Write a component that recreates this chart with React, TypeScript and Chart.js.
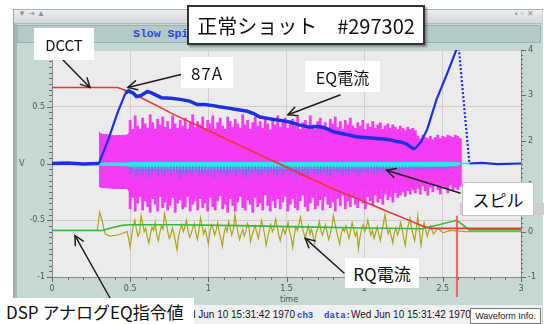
import React, { useEffect, useRef } from 'react';
import { Chart, registerables } from 'chart.js';

Chart.register(...registerables);

// ---- EQ current (blue) ----
const eqTime = [0, 0.10, 0.20, 0.30, 0.36, 0.42, 0.47, 0.49, 0.52, 0.54, 0.57, 0.61, 0.64, 0.70, 0.76, 0.82, 0.88, 0.93, 0.98, 1.03, 1.07, 1.12, 1.16, 1.21, 1.25, 1.29, 1.33, 1.37, 1.41, 1.46, 1.52, 1.58, 1.65, 1.69, 1.73, 1.77, 1.80, 1.85, 1.90, 1.95, 2.00, 2.04, 2.08, 2.12, 2.16, 2.20, 2.23, 2.27, 2.30, 2.32, 2.36, 2.40, 2.46, 2.53, 2.60, 2.67, 2.75, 2.85, 3.0];
const eqValue = [0, 0.005, -0.005, 0, 0.21, 0.45, 0.62, 0.64, 0.62, 0.59, 0.60, 0.635, 0.62, 0.58, 0.575, 0.565, 0.55, 0.52, 0.52, 0.51, 0.50, 0.49, 0.48, 0.47, 0.46, 0.44, 0.41, 0.40, 0.39, 0.38, 0.365, 0.34, 0.32, 0.325, 0.32, 0.30, 0.28, 0.265, 0.25, 0.235, 0.23, 0.225, 0.22, 0.215, 0.21, 0.195, 0.19, 0.17, 0.14, 0.125, 0.19, 0.30, 0.565, 0.80, 1.05, 0, 0.005, -0.005, 0];

// ---- DCCT (red) ----
const dcctTime = [0, 0.42, 0.49, 0.60, 0.775, 0.90, 1.07, 1.25, 1.45, 1.65, 1.80, 1.97, 2.15, 2.30, 2.37, 2.42, 3.0];
const dcctValue = [0.67, 0.67, 0.635, 0.56, 0.435, 0.355, 0.245, 0.128, 0.0, -0.13, -0.225, -0.32, -0.425, -0.51, -0.55, -0.572, -0.572];

// ---- DSP analog EQ command (green) ----
const dspTime = [0, 0.32, 0.36, 0.40, 0.45, 0.50, 0.80, 1.20, 1.60, 2.00, 2.37, 2.59, 2.67, 3.0];
const dspValue = [-0.59, -0.59, -0.575, -0.56, -0.545, -0.54, -0.54, -0.547, -0.558, -0.568, -0.575, -0.50, -0.585, -0.585];

// ---- RQ current (olive) ----
const rqLeadTime = [0, 0.29, 0.305, 0.32, 0.34, 0.37, 0.42, 0.46];
const rqLeadValue = [-0.59, -0.59, -0.43, -0.50, -0.62, -0.64, -0.63, -0.61];
const rqNoiseStart = 0.48;
const rqNoiseStep = 0.01;
const rqNoiseValue = [
  -0.60, -0.66, -0.74, -0.63, -0.55, -0.50, -0.58, -0.64, -0.61, -0.46, -0.53, -0.60, -0.57, -0.65, -0.70, -0.62, -0.56, -0.59, -0.52, -0.63,
  -0.68, -0.61, -0.55, -0.58, -0.44, -0.51, -0.60, -0.66, -0.63, -0.57, -0.62, -0.69, -0.76, -0.64, -0.58, -0.54, -0.60, -0.56, -0.50, -0.59,
  -0.65, -0.62, -0.57, -0.53, -0.61, -0.67, -0.59, -0.48, -0.55, -0.62, -0.58, -0.64, -0.71, -0.60, -0.54, -0.57, -0.63, -0.59, -0.52, -0.61,
  -0.66, -0.73, -0.62, -0.56, -0.60, -0.51, -0.57, -0.63, -0.58, -0.45, -0.54, -0.61, -0.67, -0.62, -0.58, -0.64, -0.60, -0.53, -0.57, -0.69,
  -0.63, -0.59, -0.55, -0.61, -0.66, -0.58, -0.50, -0.56, -0.62, -0.72, -0.65, -0.59, -0.54, -0.60, -0.57, -0.49, -0.55, -0.63, -0.68, -0.61,
  -0.57, -0.62, -0.58, -0.52, -0.60, -0.65, -0.74, -0.63, -0.56, -0.59, -0.53, -0.47, -0.56, -0.61, -0.66, -0.60, -0.55, -0.62, -0.58, -0.64,
  -0.70, -0.61, -0.57, -0.51, -0.59, -0.63, -0.58, -0.54, -0.61, -0.67, -0.62, -0.56, -0.46, -0.53, -0.60, -0.65, -0.71, -0.62, -0.57, -0.60,
  -0.55, -0.61, -0.66, -0.59, -0.52, -0.58, -0.64, -0.60, -0.75, -0.65, -0.58, -0.54, -0.60, -0.56, -0.50, -0.57, -0.63, -0.59, -0.66, -0.61,
  -0.56, -0.62, -0.68, -0.60, -0.53, -0.45, -0.55, -0.62, -0.58, -0.64, -0.70, -0.61, -0.57, -0.63, -0.59, -0.52, -0.58, -0.66, -0.72, -0.60,
  -0.54, -0.48, -0.57, -0.63, -0.68, -0.58, -0.46,
];
const rqTailTime = [2.36, 2.38, 2.40, 2.42, 2.44, 2.47, 2.50, 2.55, 2.65, 3.0];
const rqTailValue = [-0.72, -0.52, -0.64, -0.55, -0.62, -0.57, -0.61, -0.59, -0.60, -0.60];

// ---- Spill (magenta): dense core band plus spike extremes ----
const spillCoreTime = [0.30, 0.31, 0.40, 0.48, 0.52, 0.80, 1.20, 1.60, 2.00, 2.30, 2.34, 2.52, 2.61];
const spillCoreHigh = [0.28, 0.26, 0.245, 0.25, 0.30, 0.30, 0.30, 0.29, 0.29, 0.27, 0.21, 0.20, 0.22];
const spillCoreLow = [-0.20, -0.21, -0.22, -0.22, -0.29, -0.29, -0.28, -0.26, -0.23, -0.20, -0.17, -0.15, -0.15];
const spikeStart = 0.50;
const spikeStep = 0.016;
const spikeHigh = [
  0.38, 0.30, 0.42, 0.33, 0.29, 0.40, 0.35, 0.31, 0.43, 0.36, 0.30, 0.39, 0.34, 0.41, 0.32, 0.37, 0.29, 0.42, 0.35, 0.31, 0.38, 0.33, 0.40, 0.30, 0.36, 0.43, 0.32, 0.37, 0.34, 0.41,
  0.31, 0.38, 0.35, 0.42, 0.30, 0.36, 0.40, 0.33, 0.29, 0.41, 0.37, 0.32, 0.39, 0.35, 0.31, 0.43, 0.34, 0.38, 0.30, 0.36, 0.41, 0.33, 0.37, 0.31, 0.40, 0.35, 0.29, 0.38, 0.34, 0.42,
  0.32, 0.37, 0.40, 0.31, 0.35, 0.39, 0.33, 0.41, 0.30, 0.36, 0.38, 0.32, 0.42, 0.34, 0.30, 0.37, 0.40, 0.33, 0.36, 0.31, 0.39, 0.35, 0.41, 0.32, 0.37, 0.30, 0.38, 0.34, 0.40, 0.33,
  0.31, 0.36, 0.33, 0.38, 0.30, 0.35, 0.32, 0.37, 0.31, 0.34, 0.36, 0.30, 0.33, 0.35, 0.31, 0.34, 0.32, 0.30, 0.33, 0.31, 0.29, 0.32, 0.30, 0.31, 0.29,
  0.24, 0.22, 0.25, 0.23, 0.22, 0.24, 0.21, 0.23, 0.25, 0.22, 0.24, 0.23, 0.25, 0.24, 0.23, 0.25, 0.24, 0.22,
];
const spikeLow = [
  -0.40, -0.30, -0.42, -0.35, -0.28, -0.41, -0.33, -0.38, -0.43, -0.31, -0.36, -0.42, -0.29, -0.39, -0.34, -0.41, -0.37, -0.30, -0.43, -0.35, -0.32, -0.40, -0.38, -0.29, -0.42, -0.36, -0.33, -0.41, -0.31, -0.39,
  -0.35, -0.42, -0.30, -0.38, -0.41, -0.33, -0.28, -0.40, -0.36, -0.43, -0.31, -0.37, -0.42, -0.34, -0.29, -0.39, -0.41, -0.32, -0.36, -0.43, -0.30, -0.38, -0.35, -0.41, -0.28, -0.37, -0.42, -0.33, -0.39, -0.31,
  -0.40, -0.34, -0.29, -0.42, -0.36, -0.31, -0.39, -0.41, -0.33, -0.28, -0.38, -0.42, -0.35, -0.30, -0.40, -0.37, -0.32, -0.41, -0.29, -0.36, -0.39, -0.34, -0.42, -0.31, -0.37, -0.28, -0.40, -0.33, -0.38, -0.30,
  -0.36, -0.39, -0.31, -0.35, -0.40, -0.29, -0.33, -0.37, -0.28, -0.34, -0.31, -0.36, -0.27, -0.32, -0.29, -0.34, -0.26, -0.30, -0.28, -0.25, -0.29, -0.24, -0.27, -0.23, -0.26,
  -0.22, -0.27, -0.20, -0.24, -0.28, -0.21, -0.25, -0.19, -0.23, -0.27, -0.20, -0.22, -0.26, -0.19, -0.24, -0.21, -0.23, -0.20,
];

// ---- Spill monitor baseline (cyan) with violet dips ----
const cyanTime = [0.30, 0.48, 0.52, 1.0, 1.5, 2.0, 2.4, 2.60, 2.61];
const cyanHigh = [0.005, 0.005, 0.01, 0.01, 0.01, 0.01, 0.01, 0.01, 0.005];
const cyanLow = [-0.015, -0.02, -0.045, -0.05, -0.045, -0.04, -0.03, -0.02, -0.005];
const cyanTailTime = [2.60, 2.67];
const cyanTailValue = [0.0, 0.0];
const dipStart = 0.50;
const dipStep = 0.02;
const dipLow = [
  -0.09, -0.06, -0.12, -0.08, -0.10, -0.07, -0.13, -0.09, -0.06, -0.11,
  -0.08, -0.12, -0.07, -0.10, -0.06, -0.09, -0.13, -0.08, -0.11, -0.07,
  -0.10, -0.06, -0.12, -0.09, -0.08, -0.11, -0.07, -0.13, -0.06, -0.10,
  -0.09, -0.12, -0.07, -0.08, -0.11, -0.06, -0.10, -0.13, -0.08, -0.09,
  -0.07, -0.12, -0.10, -0.06, -0.11, -0.08, -0.09, -0.12, -0.07, -0.10,
  -0.06, -0.11, -0.08, -0.13, -0.09, -0.07, -0.10, -0.12, -0.06, -0.09,
  -0.11, -0.08, -0.07, -0.10, -0.12, -0.06, -0.09, -0.08, -0.11, -0.07,
  -0.10, -0.06, -0.09, -0.12, -0.08, -0.07, -0.10, -0.06, -0.09, -0.08,
  -0.07, -0.10, -0.06, -0.08, -0.09, -0.06, -0.07, -0.08, -0.06, -0.07,
  -0.05, -0.07, -0.06, -0.05, -0.06, -0.04, -0.05, -0.06, -0.04, -0.05,
  -0.04, -0.05, -0.04, -0.03, -0.04,
];

// ---- Axes ----
const timeMin = 0;
const timeMax = 3;
const leftMin = -1;
const leftMax = 1;
const rightMin = -1;
const rightMax = 4;
const cursorTime = 2.59;

// Callout arrows: tip sits on the data (time, value), tail on the label box (px)
const callouts = [
  { tip: [0.243, 0.67], tail: [63, 60] },
  { tip: [0.486, 0.67], tail: [183, 74] },
  { tip: [1.51, 0.43], tail: [340, 95] },
  { tip: [2.14, -0.06], tail: [460, 193] },
  { tip: [1.62, -0.66], tail: [344, 273] },
  { tip: [0.147, -0.635], tail: [110, 298] },
];

const pts = (xs: number[], ys: number[]) => xs.map((x, i) => ({ x, y: ys[i] }));
const stepPts = (start: number, step: number, ys: number[]) =>
  ys.map((y, i) => ({ x: +(start + step * i).toFixed(4), y }));

const GRID = '#d6cad3';
const AXIS = '#8c8c8c';
const TICK_FONT = { size: 8, family: '"DejaVu Sans", sans-serif' };
const tickText = (v: any) => {
  const n = Number(v);
  return Number.isInteger(n) ? String(n) : n.toFixed(1);
};

const plotBackground = {
  id: 'plotBackground',
  beforeDraw(chart: any) {
    const { ctx, chartArea: a } = chart;
    ctx.save();
    ctx.fillStyle = '#ebebeb';
    ctx.fillRect(a.left, a.top, a.right - a.left, a.bottom - a.top);
    ctx.restore();
  },
};

function arrow(ctx: CanvasRenderingContext2D, x0: number, y0: number, x1: number, y1: number) {
  ctx.beginPath();
  ctx.moveTo(x0, y0);
  ctx.lineTo(x1, y1);
  ctx.stroke();
  const ang = Math.atan2(y1 - y0, x1 - x0);
  const len = 10;
  const spread = 0.48;
  ctx.beginPath();
  ctx.moveTo(x1 - len * Math.cos(ang - spread), y1 - len * Math.sin(ang - spread));
  ctx.lineTo(x1, y1);
  ctx.lineTo(x1 - len * Math.cos(ang + spread), y1 - len * Math.sin(ang + spread));
  ctx.stroke();
}

const overlay = {
  id: 'overlay',
  afterDraw(chart: any) {
    const { ctx, chartArea: a, scales } = chart;
    const xs = scales.x;
    const ys = scales.y;
    const yr = scales.y1;
    ctx.save();
    // minor / major tick marks
    ctx.strokeStyle = '#6a6a6a';
    ctx.lineWidth = 1;
    ctx.beginPath();
    for (let i = 0; i <= 40; i++) {
      const p = Math.round(ys.getPixelForValue(leftMin + i * 0.05)) + 0.5;
      ctx.moveTo(a.left - (i % 10 === 0 ? 5 : 3), p);
      ctx.lineTo(a.left, p);
    }
    for (let i = 0; i <= 30; i++) {
      const p = Math.round(xs.getPixelForValue(timeMin + i * 0.1)) + 0.5;
      ctx.moveTo(p, a.bottom);
      ctx.lineTo(p, a.bottom + (i % 5 === 0 ? 5 : 3));
    }
    for (let i = 0; i <= 50; i++) {
      const p = Math.round(yr.getPixelForValue(rightMin + i * 0.1)) + 0.5;
      ctx.moveTo(a.right, p);
      ctx.lineTo(a.right + (i % 10 === 0 ? 5 : 2), p);
    }
    ctx.stroke();

    // cursor marker
    const cx = xs.getPixelForValue(cursorTime);
    ctx.strokeStyle = 'rgba(240, 85, 85, 0.9)';
    ctx.lineWidth = 2;
    ctx.beginPath();
    ctx.moveTo(cx, ys.getPixelForValue(-0.46));
    ctx.lineTo(cx, a.bottom + 20);
    ctx.stroke();

    // callout arrows
    ctx.strokeStyle = '#1e1e1e';
    ctx.lineWidth = 1.5;
    ctx.lineCap = 'round';
    for (const c of callouts) {
      arrow(ctx, c.tail[0], c.tail[1], xs.getPixelForValue(c.tip[0]), ys.getPixelForValue(c.tip[1]));
    }
    ctx.restore();
  },
};

const boxBase: React.CSSProperties = {
  position: 'absolute',
  background: '#ffffff',
  display: 'flex',
  alignItems: 'center',
  justifyContent: 'center',
  color: '#111',
  fontFamily: '"Noto Sans CJK JP", "Noto Sans", sans-serif',
  whiteSpace: 'pre',
  zIndex: 3,
};

export default function App() {
  const ref = useRef<HTMLCanvasElement>(null);

  useEffect(() => {
    document.body.style.margin = '0';
    const canvas = ref.current!;
    const rqData = [
      ...pts(rqLeadTime, rqLeadValue),
      ...stepPts(rqNoiseStart, rqNoiseStep, rqNoiseValue),
      ...pts(rqTailTime, rqTailValue),
    ];
    const spikeData = spikeHigh.map((h, i) => ({ x: +(spikeStart + spikeStep * i).toFixed(4), y: [spikeLow[i], h] }));
    const dipData = dipLow.map((l, i) => ({ x: +(dipStart + dipStep * i).toFixed(4), y: [l, -0.03] }));

    const chart = new Chart(canvas, {
      type: 'line',
      data: {
        datasets: [
          {
            label: 'EQ電流',
            data: pts(eqTime, eqValue),
            borderColor: '#1b30e2',
            borderWidth: 3.5,
            order: 0,
            segment: {
              borderWidth: (c: any) => {
                const t = c.p0.parsed.x;
                return (t >= 0.29 && t < 0.46) || t >= 2.32 ? 2.2 : undefined;
              },
              borderDash: (c: any) => (c.p0.parsed.x >= 2.59 && c.p0.parsed.x < 2.66 ? [2, 2] : undefined),
            },
          } as any,
          { label: 'DCCT', data: pts(dcctTime, dcctValue), borderColor: '#ee3434', borderWidth: 1.6, order: 1 },
          { label: 'DSP', data: pts(dspTime, dspValue), borderColor: '#36b936', borderWidth: 1.6, order: 2 },
          { label: 'RQ電流', data: rqData, borderColor: '#aaa41a', borderWidth: 1.2, order: 3 },
          {
            type: 'bar',
            label: 'dip',
            data: dipData,
            backgroundColor: '#7e6cec',
            barThickness: 1.4,
            grouped: false,
            order: 4,
          } as any,
          { label: 'cyanHigh', data: pts(cyanTime, cyanHigh), borderColor: '#2ee4e4', borderWidth: 1, order: 5 },
          {
            label: 'cyanLow',
            data: pts(cyanTime, cyanLow),
            borderColor: '#2ee4e4',
            borderWidth: 1,
            backgroundColor: '#2ee4e4',
            fill: 5,
            order: 5,
          },
          {
            type: 'bar',
            label: 'spike',
            data: spikeData,
            backgroundColor: '#f43cf4',
            barThickness: 2.2,
            grouped: false,
            order: 6,
          } as any,
          { label: 'spillHigh', data: pts(spillCoreTime, spillCoreHigh), borderColor: '#f43cf4', borderWidth: 1, order: 7 },
          {
            label: 'spillLow',
            data: pts(spillCoreTime, spillCoreLow),
            borderColor: '#f43cf4',
            borderWidth: 1,
            backgroundColor: '#f43cf4',
            fill: 8,
            order: 7,
          },
          { label: 'cyanTail', data: pts(cyanTailTime, cyanTailValue), borderColor: '#2ee4e4', borderWidth: 1.5, order: 5 },
        ],
      },
      options: {
        animation: false,
        responsive: false,
        devicePixelRatio: 1,
        events: [],
        layout: { padding: { left: 22, right: 3, top: 50, bottom: 27 } },
        elements: { point: { radius: 0 }, line: { tension: 0, fill: false } },
        plugins: { legend: { display: false }, tooltip: { enabled: false } },
        scales: {
          x: {
            type: 'linear',
            min: timeMin,
            max: timeMax,
            offset: false,
            afterFit: (s: any) => { s.height = 20; },
            ticks: { stepSize: 0.5, font: TICK_FONT, color: '#555', padding: 7, maxRotation: 0, autoSkip: false, callback: tickText },
            grid: { color: GRID, drawTicks: false, offset: false },
            border: { display: true, color: AXIS },
          },
          y: {
            position: 'left',
            min: leftMin,
            max: leftMax,
            afterFit: (s: any) => { s.width = 30; },
            ticks: { stepSize: 0.5, font: TICK_FONT, color: '#555', padding: 7, callback: tickText },
            grid: { color: GRID, drawTicks: false },
            border: { display: true, color: AXIS },
          },
          y1: {
            position: 'right',
            min: rightMin,
            max: rightMax,
            afterFit: (s: any) => { s.width = 20; },
            ticks: { stepSize: 1, font: TICK_FONT, color: '#555', padding: 7, callback: tickText },
            grid: { drawOnChartArea: false, drawTicks: false },
            border: { display: true, color: AXIS },
          },
        },
      } as any,
      plugins: [plotBackground, overlay],
    });
    return () => chart.destroy();
  }, []);

  const abs = (s: React.CSSProperties): React.CSSProperties => ({ position: 'absolute', ...s });
  const mono: React.CSSProperties = { color: '#2a44e0', fontWeight: 'bold', fontFamily: '"Liberation Mono", monospace', fontSize: 9 };

  return (
    <div
      style={{
        position: 'relative',
        width: 544,
        height: 324,
        overflow: 'hidden',
        background: '#ffffff',
        fontFamily: '"Liberation Sans", sans-serif',
      }}
    >
      {/* window chrome */}
      <div style={abs({ left: 13, top: 9, width: 529, height: 320, background: '#c6d8d4', borderLeft: '1px solid #9aa4a4', borderTop: '1px solid #a8b0b0' })} />
      <div style={abs({ left: 14, top: 10, width: 528, height: 13, background: 'linear-gradient(#eceef0, #d4d8db)', borderBottom: '1px solid #b4babe' })} />
      <div style={abs({ left: 18, top: 9, fontSize: 8, color: '#8b9096', letterSpacing: 2 })}>▼⇥▲</div>
      <div style={abs({ left: 515, top: 9, fontSize: 8, color: '#8b9096', letterSpacing: 3 })}>▪▫✕</div>
      <div style={abs({ left: 14, top: 24, width: 3, height: 281, background: '#a6b4b2' })} />
      <div style={abs({ left: 17, top: 25, width: 522, height: 16, background: '#b4cac7', border: '1px solid #9db1ae' })} />
      <div style={abs({ left: 133, top: 27, fontSize: 11.5, fontWeight: 'bold', color: '#2a44e0', fontFamily: '"Liberation Mono", monospace' })}>Slow Spill Monitor</div>
      <div style={abs({ left: 14, top: 305, width: 528, height: 19, background: '#eff1f1' })} />
      <div style={abs({ left: 0, top: 309, width: 295, textAlign: 'right', fontSize: 10, color: '#111', whiteSpace: 'pre' })}>
        <span style={mono}>ch1  data:</span>Wed Jun 10 15:31:42 1970
      </div>
      <div style={abs({ left: 297, top: 309, fontSize: 10, color: '#111', whiteSpace: 'pre' })}>
        <span style={mono}>ch3  data:</span>Wed Jun 10 15:31:42 1970
      </div>
      <div style={abs({ left: 470, top: 308, width: 69, height: 14, border: '1px solid #7a7a7a', background: '#fbfbfb', fontSize: 9, color: '#222', textAlign: 'center', lineHeight: '14px', whiteSpace: 'nowrap', overflow: 'visible' })}>Waveform Info.</div>
      <div style={abs({ left: 19, top: 159, fontSize: 8, color: '#555', fontFamily: '"DejaVu Sans", sans-serif' })}>V</div>
      <div style={abs({ left: 280, top: 295, fontSize: 8, color: '#555', fontFamily: '"DejaVu Sans", sans-serif' })}>time</div>

      <canvas ref={ref} width={544} height={324} style={{ position: 'absolute', left: 0, top: 0, width: 544, height: 324, zIndex: 2 }} />

      {/* annotation labels */}
      <div style={{ ...boxBase, left: 187, top: 5, width: 234, height: 36, border: '2px solid #333', boxShadow: '2px 2px 2px rgba(0,0,0,0.35)', fontSize: 20 }}>正常ショット　#297302</div>
      <div style={{ ...boxBase, left: 34, top: 28, width: 60, height: 32, fontSize: 15 }}>DCCT</div>
      <div style={{ ...boxBase, left: 181, top: 57, width: 52, height: 31, fontSize: 17, letterSpacing: 1 }}>87A</div>
      <div style={{ ...boxBase, left: 305, top: 61, width: 75, height: 31, fontSize: 16 }}>EQ電流</div>
      <div style={abs({ left: 460, top: 203, width: 84, height: 12, background: '#cdcdcd', zIndex: 3 })} />
      <div style={{ ...boxBase, left: 462, top: 182, width: 70, height: 32, fontSize: 17, border: '1px solid #c4c4c4' }}>スピル</div>
      <div style={{ ...boxBase, left: 345, top: 258, width: 74, height: 30, fontSize: 17 }}>RQ電流</div>
      <div style={{ ...boxBase, left: 0, top: 298, width: 194, height: 26, fontSize: 17, justifyContent: 'flex-start', paddingLeft: 6, boxSizing: 'border-box' }}>DSP アナログEQ指令値</div>
    </div>
  );
}
